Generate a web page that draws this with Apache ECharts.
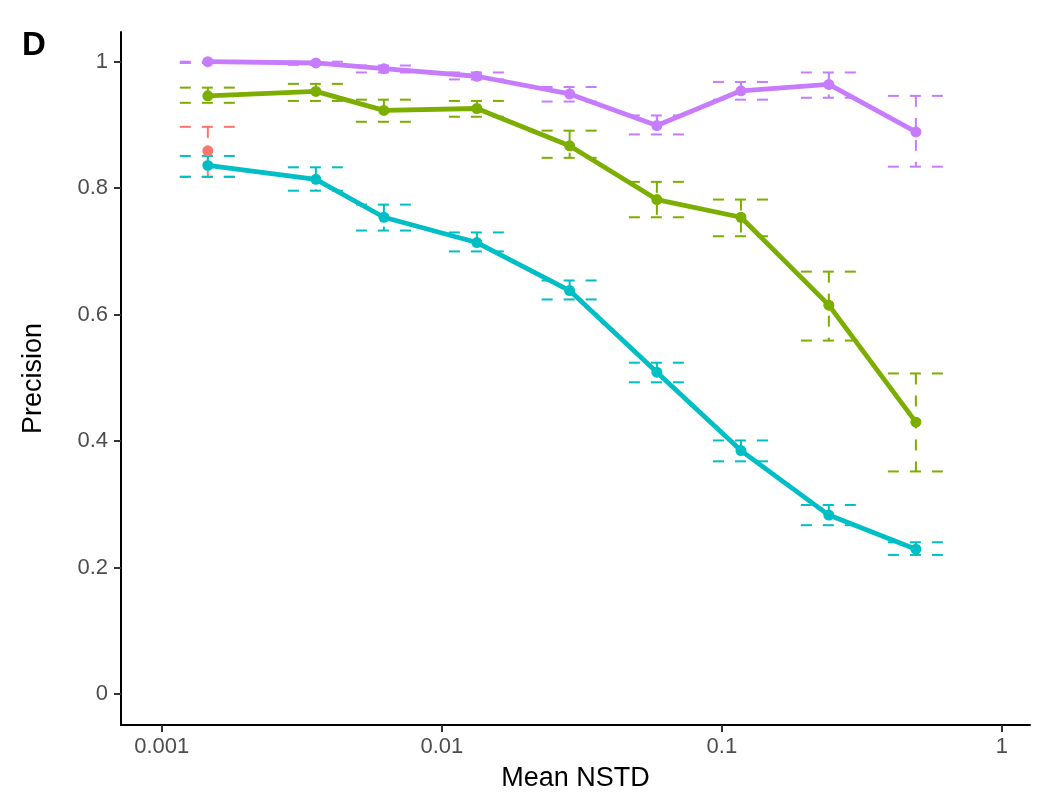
<!DOCTYPE html>
<html>
<head>
<meta charset="utf-8">
<script src="https://cdn.jsdelivr.net/npm/echarts@6/dist/echarts.min.js"></script>
<style>
	html, body { margin: 0; padding: 0; background: #fff; }
	#chart { width: 1041px; height: 797px; }
</style>
</head>
<body>
<div id="chart"></div>
<script>
// x positions (Mean NSTD), shared by all groups
var nstd = [0.00146, 0.00355, 0.00621, 0.01334, 0.0286, 0.0586, 0.117, 0.241, 0.493];

// precision per group: mean, lower, upper
var purpleMean = [1.000, 0.998, 0.989, 0.977, 0.949, 0.899, 0.954, 0.964, 0.889];
var purpleLow  = [0.998, 0.995, 0.983, 0.972, 0.937, 0.885, 0.940, 0.943, 0.834];
var purpleHigh = [1.000, 1.000, 0.994, 0.983, 0.960, 0.915, 0.968, 0.983, 0.946];

var greenMean = [0.946, 0.953, 0.923, 0.926, 0.867, 0.782, 0.754, 0.615, 0.430];
var greenLow  = [0.935, 0.938, 0.905, 0.913, 0.848, 0.754, 0.724, 0.559, 0.352];
var greenHigh = [0.959, 0.965, 0.940, 0.938, 0.891, 0.810, 0.782, 0.668, 0.507];

var cyanMean = [0.836, 0.814, 0.754, 0.714, 0.638, 0.509, 0.385, 0.283, 0.229];
var cyanLow  = [0.818, 0.796, 0.733, 0.700, 0.624, 0.493, 0.368, 0.267, 0.220];
var cyanHigh = [0.851, 0.833, 0.774, 0.730, 0.654, 0.524, 0.401, 0.299, 0.240];

var redX    = [0.00146];
var redMean = [0.859];
var redLow  = [0.818];
var redHigh = [0.897];

var xTicks = [0.001, 0.01, 0.1, 1];
var yTicks = [0, 0.2, 0.4, 0.6, 0.8, 1];

var colors = {
	red: '#F8766D',
	green: '#7CAE00',
	cyan: '#00BFC4',
	purple: '#C77CFF'
};

function lg(v){ return Math.log(v) / Math.LN10; }

function linePoints(xs, ys){
	var out = [];
	for(var i=0;i<xs.length;i++){
		out.push([lg(xs[i]), ys[i]]);
	}
	return out;
}

function barPoints(xs, lo, hi){
	var out = [];
	for(var i=0;i<xs.length;i++){
		out.push([lg(xs[i]), lo[i], hi[i]]);
	}
	return out;
}

// errorbar: top cap, stem, bottom cap, each dashed on its own
function errorBarSeries(data, color){
	return {
		type: 'custom',
		data: data,
		z: 2,
		silent: true,
		renderItem: function(params, api){
			var x = api.value(0);
			var top = api.coord([x, api.value(2)]);
			var bot = api.coord([x, api.value(1)]);
			var half = api.coord([x + 0.1, api.value(2)])[0] - top[0];
			var style = { stroke: color, lineWidth: 2, lineDash: [11, 11], fill: null };
			return {
				type: 'group',
				children: [
					{ type: 'line', shape: { x1: top[0] - half, y1: top[1], x2: top[0] + half, y2: top[1] }, style: style },
					{ type: 'line', shape: { x1: top[0], y1: top[1], x2: bot[0], y2: bot[1] }, style: style },
					{ type: 'line', shape: { x1: bot[0] - half, y1: bot[1], x2: bot[0] + half, y2: bot[1] }, style: style }
				]
			};
		}
	};
}

function lineSeries(data, color){
	return {
		type: 'line',
		data: data,
		z: 3,
		symbol: 'circle',
		symbolSize: 11,
		showAllSymbol: true,
		animation: false,
		lineStyle: { color: color, width: 4.8 },
		itemStyle: { color: color }
	};
}

var chart = echarts.init(document.getElementById('chart'));
var option = {
	animation: false,
	backgroundColor: '#ffffff',
	title: {
		text: 'D',
		left: 17,
		top: 24,
		textStyle: { fontFamily: 'Liberation Sans', fontWeight: 'bold', fontSize: 33, color: '#000' }
	},
	grid: { left: 121, right: 11, top: 32, bottom: 71 },
	xAxis: {
		type: 'value',
		min: lg(0.000715),
		max: lg(1.26),
		name: 'Mean NSTD',
		nameLocation: 'middle',
		nameGap: 40,
		nameTextStyle: { fontFamily: 'Liberation Sans', fontSize: 27, color: '#000' },
		splitLine: { show: false },
		axisLine: { onZero: false, lineStyle: { color: '#000', width: 2 } },
		axisTick: {
			customValues: xTicks.map(lg),
			length: 7,
			lineStyle: { color: '#333', width: 2 }
		},
		axisLabel: {
			customValues: xTicks.map(lg),
			margin: 11,
			fontFamily: 'Liberation Sans',
			fontSize: 22,
			color: '#4D4D4D',
			formatter: function(v){
				return String(Math.round(Math.pow(10, v) * 1000) / 1000);
			}
		}
	},
	yAxis: {
		type: 'value',
		min: -0.049,
		max: 1.047,
		name: 'Precision',
		nameLocation: 'middle',
		nameGap: 74,
		nameRotate: 90,
		nameTextStyle: { fontFamily: 'Liberation Sans', fontSize: 27, color: '#000' },
		splitLine: { show: false },
		axisLine: { onZero: false, lineStyle: { color: '#000', width: 2 } },
		axisTick: {
			customValues: yTicks,
			length: 7,
			lineStyle: { color: '#333', width: 2 }
		},
		axisLabel: {
			customValues: yTicks,
			margin: 13,
			fontFamily: 'Liberation Sans',
			fontSize: 22,
			color: '#4D4D4D',
			formatter: function(v){ return String(Math.round(v * 10) / 10); }
		}
	},
	series: [
		errorBarSeries(barPoints(redX, redLow, redHigh), colors.red),
		errorBarSeries(barPoints(nstd, greenLow, greenHigh), colors.green),
		errorBarSeries(barPoints(nstd, cyanLow, cyanHigh), colors.cyan),
		errorBarSeries(barPoints(nstd, purpleLow, purpleHigh), colors.purple),
		lineSeries(linePoints(redX, redMean), colors.red),
		lineSeries(linePoints(nstd, greenMean), colors.green),
		lineSeries(linePoints(nstd, cyanMean), colors.cyan),
		lineSeries(linePoints(nstd, purpleMean), colors.purple)
	]
};
chart.setOption(option);
</script>
</body>
</html>
